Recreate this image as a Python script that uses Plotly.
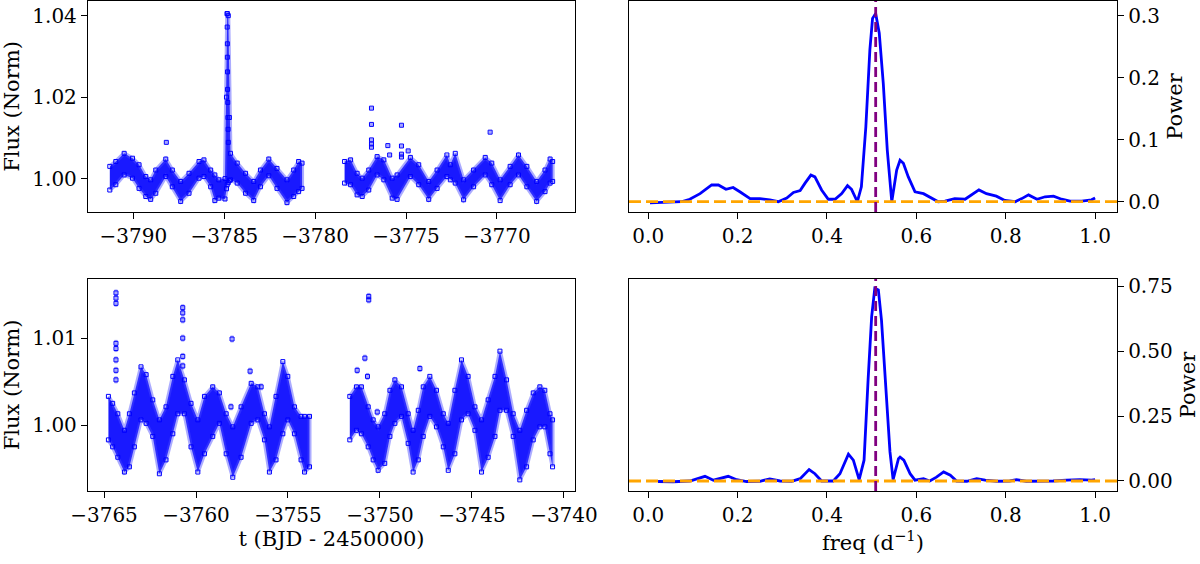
import plotly.graph_objects as go
from plotly.subplots import make_subplots

# ---------------- light curve, sector A (top-left) ----------------
# band: time, upper edge, lower edge of the dense point cloud
TOP_A_T = [-3791.30, -3790.97, -3790.51, -3790.05, -3789.69, -3789.32, -3789.05, -3788.77,
           -3788.22, -3787.86, -3787.40, -3786.94, -3786.39, -3786.12, -3785.75, -3785.52,
           -3785.30, -3784.96, -3784.88, -3784.84, -3784.78, -3784.72, -3784.66, -3784.29,
           -3783.83, -3783.38, -3783.01, -3782.55, -3782.10, -3781.55, -3781.18, -3780.91,
           -3780.72]
TOP_A_HI = [1.0030, 1.0042, 1.0062, 1.0050, 1.0034, 1.0005, 0.9997, 1.0021,
            1.0048, 1.0021, 0.9993, 1.0013, 1.0042, 1.0046, 1.0021, 1.0009,
            0.9997, 1.0000, 1.0200, 1.0405, 1.0400, 1.0150, 1.0062, 1.0038,
            1.0013, 0.9993, 1.0021, 1.0048, 1.0025, 0.9997, 1.0021, 1.0042,
            1.0038]
TOP_A_LO = [0.9972, 0.9985, 1.0009, 1.0001, 0.9976, 0.9956, 0.9949, 0.9964,
            1.0005, 0.9980, 0.9944, 0.9964, 1.0001, 1.0005, 0.9980, 0.9946,
            0.9952, 0.9950, 0.9975, 0.9985, 0.9990, 0.9995, 0.9997, 0.9989,
            0.9964, 0.9946, 0.9980, 1.0007, 0.9976, 0.9941, 0.9956, 0.9968,
            0.9976]

TOP_B_T = [-3778.38, -3778.05, -3777.69, -3777.41, -3777.05, -3776.59, -3776.22, -3775.76,
           -3775.49, -3774.76, -3774.30, -3773.75, -3773.29, -3772.75, -3772.56, -3772.29,
           -3771.83, -3771.28, -3770.64, -3770.28, -3769.82, -3769.27, -3768.81, -3768.35,
           -3767.81, -3767.35, -3767.07, -3766.93]
TOP_B_HI = [1.0042, 1.0046, 1.0013, 1.0001, 1.0021, 1.0054, 1.0046, 1.0001,
            1.0009, 1.0052, 1.0034, 0.9993, 1.0021, 1.0058, 1.0034, 1.0062,
            0.9997, 1.0021, 1.0052, 1.0038, 0.9997, 1.0030, 1.0058, 1.0030,
            0.9993, 1.0021, 1.0048, 1.0042]
TOP_B_LO = [0.9989, 0.9985, 0.9960, 0.9956, 0.9972, 1.0009, 0.9997, 0.9952,
            0.9949, 1.0005, 0.9985, 0.9949, 0.9976, 1.0005, 0.9997, 0.9989,
            0.9948, 0.9980, 1.0009, 0.9985, 0.9946, 0.9985, 1.0009, 0.9980,
            0.9944, 0.9968, 0.9989, 0.9993]

TOP_OUT_T = [-3788.19, -3784.84, -3784.84, -3784.83, -3784.83, -3784.82, -3784.82, -3784.81,
             -3784.80, -3784.79, -3784.78, -3776.90, -3776.90, -3776.90, -3776.90, -3776.90,
             -3776.00, -3775.90, -3775.25, -3775.25, -3775.25, -3775.25, -3774.88, -3770.37]
TOP_OUT_F = [1.0089, 1.0405, 1.0372, 1.0331, 1.0298, 1.0262, 1.0219, 1.0187,
             1.0150, 1.0121, 1.0089, 1.0173, 1.0133, 1.0095, 1.0085, 1.0077,
             1.0081, 1.0058, 1.0131, 1.0080, 1.0060, 1.0053, 1.0068, 1.0114]

# ---------------- light curve, sector B (bottom-left) ----------------
BOT_A_T = [-3764.76, -3764.53, -3764.25, -3763.89, -3763.62, -3763.35, -3762.99, -3762.71,
           -3762.35, -3761.99, -3761.63, -3761.26, -3760.99, -3760.63, -3760.27, -3759.90,
           -3759.54, -3759.09, -3758.73, -3758.36, -3758.00, -3757.55, -3757.00, -3756.64,
           -3756.28, -3756.01, -3755.65, -3755.28, -3755.01, -3754.65, -3754.29, -3754.10,
           -3753.83]
BOT_A_HI = [1.0033, 1.0025, 1.0013, 0.9994, 1.0013, 1.0037, 1.0067, 1.0058,
            1.0029, 1.0006, 1.0021, 1.0056, 1.0075, 1.0052, 1.0025, 1.0006,
            1.0033, 1.0044, 1.0037, 1.0013, 0.9998, 1.0021, 1.0048, 1.0044,
            1.0013, 0.9998, 1.0033, 1.0073, 1.0056, 1.0021, 1.0010, 1.0010,
            1.0010]
BOT_A_LO = [0.9983, 0.9975, 0.9963, 0.9946, 0.9952, 0.9975, 1.0006, 1.0002,
            0.9987, 0.9944, 0.9960, 0.9990, 1.0013, 1.0013, 0.9975, 0.9946,
            0.9967, 0.9987, 1.0002, 0.9967, 0.9940, 0.9963, 1.0002, 1.0006,
            0.9983, 0.9946, 0.9960, 0.9990, 1.0006, 0.9990, 0.9960, 0.9946,
            0.9952]

BOT_B_T = [-3751.64, -3751.28, -3751.01, -3750.64, -3750.37, -3750.10, -3749.74, -3749.46,
           -3749.19, -3748.83, -3748.47, -3748.20, -3747.92, -3747.65, -3747.29, -3746.93,
           -3746.56, -3746.29, -3745.93, -3745.57, -3745.21, -3744.84, -3744.48, -3744.12,
           -3743.75, -3743.48, -3743.12, -3742.76, -3742.40, -3742.03, -3741.67, -3741.31,
           -3741.04, -3740.76, -3740.62]
BOT_B_HI = [1.0033, 1.0044, 1.0044, 1.0021, 1.0006, 0.9998, 1.0013, 1.0040,
            1.0052, 1.0044, 1.0013, 0.9994, 1.0017, 1.0044, 1.0056, 1.0040,
            1.0013, 1.0002, 1.0040, 1.0075, 1.0056, 1.0021, 1.0006, 1.0029,
            1.0056, 1.0085, 1.0052, 1.0013, 0.9994, 1.0017, 1.0037, 1.0044,
            1.0040, 1.0013, 1.0006]
BOT_B_LO = [0.9983, 0.9994, 0.9990, 0.9975, 0.9960, 0.9948, 0.9956, 0.9987,
            1.0002, 1.0010, 0.9979, 0.9946, 0.9960, 0.9987, 1.0010, 0.9998,
            0.9975, 0.9948, 0.9967, 1.0006, 1.0013, 0.9994, 0.9946, 0.9963,
            0.9987, 1.0017, 1.0017, 0.9987, 0.9937, 0.9952, 0.9983, 0.9998,
            0.9998, 0.9967, 0.9952]

BOT_OUT_T = [-3764.35, -3764.35, -3764.35, -3764.35, -3764.35, -3764.35, -3764.35, -3764.35,
             -3760.72, -3760.72, -3760.72, -3760.72, -3760.72, -3760.72, -3758.04, -3758.10,
             -3757.06, -3756.46, -3751.24, -3750.82, -3750.68, -3750.61, -3750.61, -3750.15,
             -3747.83]
BOT_OUT_F = [1.0152, 1.0146, 1.0140, 1.0094, 1.0088, 1.0075, 1.0063, 1.0052,
             1.0135, 1.0129, 1.0121, 1.0100, 1.0079, 1.0068, 1.0099, 1.0021,
             1.0062, 1.0044, 1.0063, 1.0077, 1.0056, 1.0148, 1.0144, 1.0015,
             1.0065]

# ---------------- periodograms ----------------
PG1_FREQ = [0.004, 0.041, 0.074, 0.093, 0.116, 0.142, 0.157, 0.174, 0.190, 0.205,
            0.228, 0.250, 0.272, 0.291, 0.310, 0.325, 0.340, 0.351, 0.364, 0.373,
            0.388, 0.403, 0.418, 0.433, 0.446, 0.455, 0.468, 0.477, 0.487, 0.496,
            0.502, 0.509, 0.517, 0.526, 0.535, 0.545, 0.556, 0.5635, 0.571, 0.582,
            0.597, 0.616, 0.630, 0.649, 0.664, 0.686, 0.709, 0.724, 0.740, 0.757,
            0.779, 0.798, 0.821, 0.836, 0.851, 0.870, 0.888, 0.907, 0.925, 0.944,
            0.970, 0.992, 1.000]
PG1_POWER = [-0.002, -0.001, 0.000, 0.004, 0.013, 0.027, 0.027, 0.020, 0.023, 0.016,
             0.005, 0.005, 0.003, 0.000, 0.006, 0.015, 0.018, 0.030, 0.043, 0.040,
             0.019, 0.004, 0.004, 0.013, 0.026, 0.020, 0.000, 0.024, 0.121, 0.245,
             0.296, 0.304, 0.272, 0.191, 0.083, 0.000, 0.051, 0.067, 0.062, 0.040,
             0.016, 0.013, 0.008, 0.000, 0.001, 0.005, 0.004, 0.011, 0.019, 0.013,
             0.009, 0.002, 0.000, 0.005, 0.011, 0.004, 0.008, 0.009, 0.004, 0.001,
             0.001, 0.003, 0.006]

PG2_FREQ = [0.022, 0.056, 0.093, 0.108, 0.127, 0.146, 0.160, 0.179, 0.198, 0.220,
            0.250, 0.272, 0.295, 0.321, 0.340, 0.360, 0.373, 0.388, 0.414, 0.429,
            0.448, 0.459, 0.472, 0.483, 0.492, 0.500, 0.507, 0.515, 0.522, 0.532,
            0.541, 0.548, 0.560, 0.5635, 0.572, 0.586, 0.597, 0.616, 0.630, 0.645,
            0.661, 0.676, 0.690, 0.713, 0.735, 0.754, 0.780, 0.809, 0.824, 0.846,
            0.876, 0.906, 0.936, 0.966, 0.992, 1.000]
PG2_POWER = [-0.002, -0.003, 0.000, 0.009, 0.018, 0.003, 0.009, 0.018, 0.005, -0.002,
             -0.001, 0.008, 0.000, -0.001, 0.009, 0.044, 0.028, 0.000, 0.000, 0.028,
             0.103, 0.080, 0.005, 0.080, 0.388, 0.632, 0.741, 0.735, 0.619, 0.362,
             0.112, 0.005, 0.086, 0.092, 0.080, 0.028, 0.003, 0.009, 0.000, 0.015,
             0.035, 0.022, 0.000, -0.001, 0.009, 0.003, -0.001, 0.000, 0.005, -0.001,
             -0.001, 0.000, 0.003, 0.005, 0.003, 0.005]

PEAK_FREQ = 0.509
TOP_XTICKS = [-3790, -3785, -3780, -3775, -3770]
BOT_XTICKS = [-3765, -3760, -3755, -3750, -3745, -3740]
TOP_YTICKS = [1.00, 1.02, 1.04]
BOT_YTICKS = [1.00, 1.01]
PG1_YTICKS = [0.0, 0.1, 0.2, 0.3]
PG2_YTICKS = [0.0, 0.25, 0.50, 0.75]
FREQ_TICKS = [0.0, 0.2, 0.4, 0.6, 0.8, 1.0]

BLUE = "#0000ff"
FONT = "DejaVu Serif, Liberation Serif, serif"
TICK_SIZE = 20
TITLE_SIZE = 21

fig = make_subplots(rows=2, cols=2)


def add_band(t, hi, lo, row, col):
    fig.add_trace(go.Scatter(x=t + t[::-1], y=hi + lo[::-1], mode="lines", fill="toself",
                             fillcolor="rgba(0,0,255,0.9)",
                             line=dict(color="rgba(70,70,255,0.45)", width=4),
                             hoverinfo="skip", showlegend=False), row=row, col=col)
    for arr in (hi, lo):
        fig.add_trace(go.Scatter(x=t, y=arr, mode="markers",
                                 marker=dict(symbol="square-open", size=4, color=BLUE,
                                             line=dict(width=1, color=BLUE)),
                                 showlegend=False), row=row, col=col)


def add_outliers(t, f, err, row, col):
    fig.add_trace(go.Scatter(x=t, y=f, mode="markers",
                             marker=dict(symbol="square-open", size=4, color=BLUE,
                                         line=dict(width=1, color=BLUE)),
                             error_y=dict(type="constant", value=err, color="rgba(0,0,255,0.35)",
                                          thickness=3, width=0),
                             showlegend=False), row=row, col=col)


add_band(TOP_A_T, TOP_A_HI, TOP_A_LO, 1, 1)
add_band(TOP_B_T, TOP_B_HI, TOP_B_LO, 1, 1)
add_outliers(TOP_OUT_T, TOP_OUT_F, 0.0004, 1, 1)
add_band(BOT_A_T, BOT_A_HI, BOT_A_LO, 2, 1)
add_band(BOT_B_T, BOT_B_HI, BOT_B_LO, 2, 1)
add_outliers(BOT_OUT_T, BOT_OUT_F, 0.0004, 2, 1)

fig.add_trace(go.Scatter(x=PG1_FREQ, y=PG1_POWER, mode="lines",
                         line=dict(color=BLUE, width=2.8), showlegend=False), row=1, col=2)
fig.add_trace(go.Scatter(x=PG2_FREQ, y=PG2_POWER, mode="lines",
                         line=dict(color=BLUE, width=2.8), showlegend=False), row=2, col=2)

for xa, ya in (("x2", "y2"), ("x4", "y4")):
    fig.add_shape(type="line", xref=f"{xa} domain", yref=ya, x0=0, x1=1, y0=0, y1=0,
                  line=dict(color="orange", width=2.8, dash="12px,5px"))
    fig.add_shape(type="line", xref=xa, yref=f"{ya} domain", x0=PEAK_FREQ, x1=PEAK_FREQ,
                  y0=0, y1=1, line=dict(color="purple", width=2.8, dash="10px,5px"))

axis_common = dict(showline=True, linecolor="black", linewidth=1.3, mirror=True,
                   ticks="outside", ticklen=6, tickwidth=1.3, tickcolor="black",
                   showgrid=False, zeroline=False, automargin=False,
                   tickfont=dict(family=FONT, size=TICK_SIZE, color="black"))

X_LEFT = [88 / 1200, 575 / 1200]
X_RIGHT = [629 / 1200, 1117 / 1200]
Y_TOP = [1 - 212 / 564, 1 - 1 / 564]
Y_BOT = [1 - 491 / 564, 1 - 279 / 564]


def ttl(text, standoff):
    return dict(text=text, font=dict(family=FONT, size=TITLE_SIZE, color="black"),
                standoff=standoff)


fig.update_layout(
    xaxis=dict(axis_common, domain=X_LEFT, range=[-3792.5, -3765.7], tickvals=TOP_XTICKS),
    yaxis=dict(axis_common, domain=Y_TOP, range=[0.9918, 1.0436], tickvals=TOP_YTICKS,
               tickformat=".2f", title=ttl("Flux (Norm)", 6)),
    xaxis2=dict(axis_common, domain=X_RIGHT, range=[-0.043, 1.049], tickvals=FREQ_TICKS,
                tickformat=".1f"),
    yaxis2=dict(axis_common, domain=Y_TOP, range=[-0.0166, 0.324], tickvals=PG1_YTICKS,
                tickformat=".1f", side="right", title=ttl("Power", 8)),
    xaxis3=dict(axis_common, domain=X_LEFT, range=[-3765.87, -3739.4], tickvals=BOT_XTICKS,
                title=ttl("t (BJD - 2450000)", 5)),
    yaxis3=dict(axis_common, domain=Y_BOT, range=[0.99242, 1.0168], tickvals=BOT_YTICKS,
                tickformat=".2f", title=ttl("Flux (Norm)", 6)),
    xaxis4=dict(axis_common, domain=X_RIGHT, range=[-0.043, 1.049], tickvals=FREQ_TICKS,
                tickformat=".1f", title=ttl("freq (d<sup>−1</sup>)", 5)),
    yaxis4=dict(axis_common, domain=Y_BOT, range=[-0.0385, 0.777], tickvals=PG2_YTICKS,
                tickformat=".2f", side="right", title=ttl("Power", 8)),
    width=1200, height=564,
    margin=dict(l=0, r=0, t=0, b=0),
    paper_bgcolor="white", plot_bgcolor="white",
    font=dict(family=FONT, size=TICK_SIZE, color="black"),
    showlegend=False,
)

fig.write_html("out.html", config={"displayModeBar": False},
               post_script="document.body.style.margin='0';document.body.style.overflow='hidden';")
